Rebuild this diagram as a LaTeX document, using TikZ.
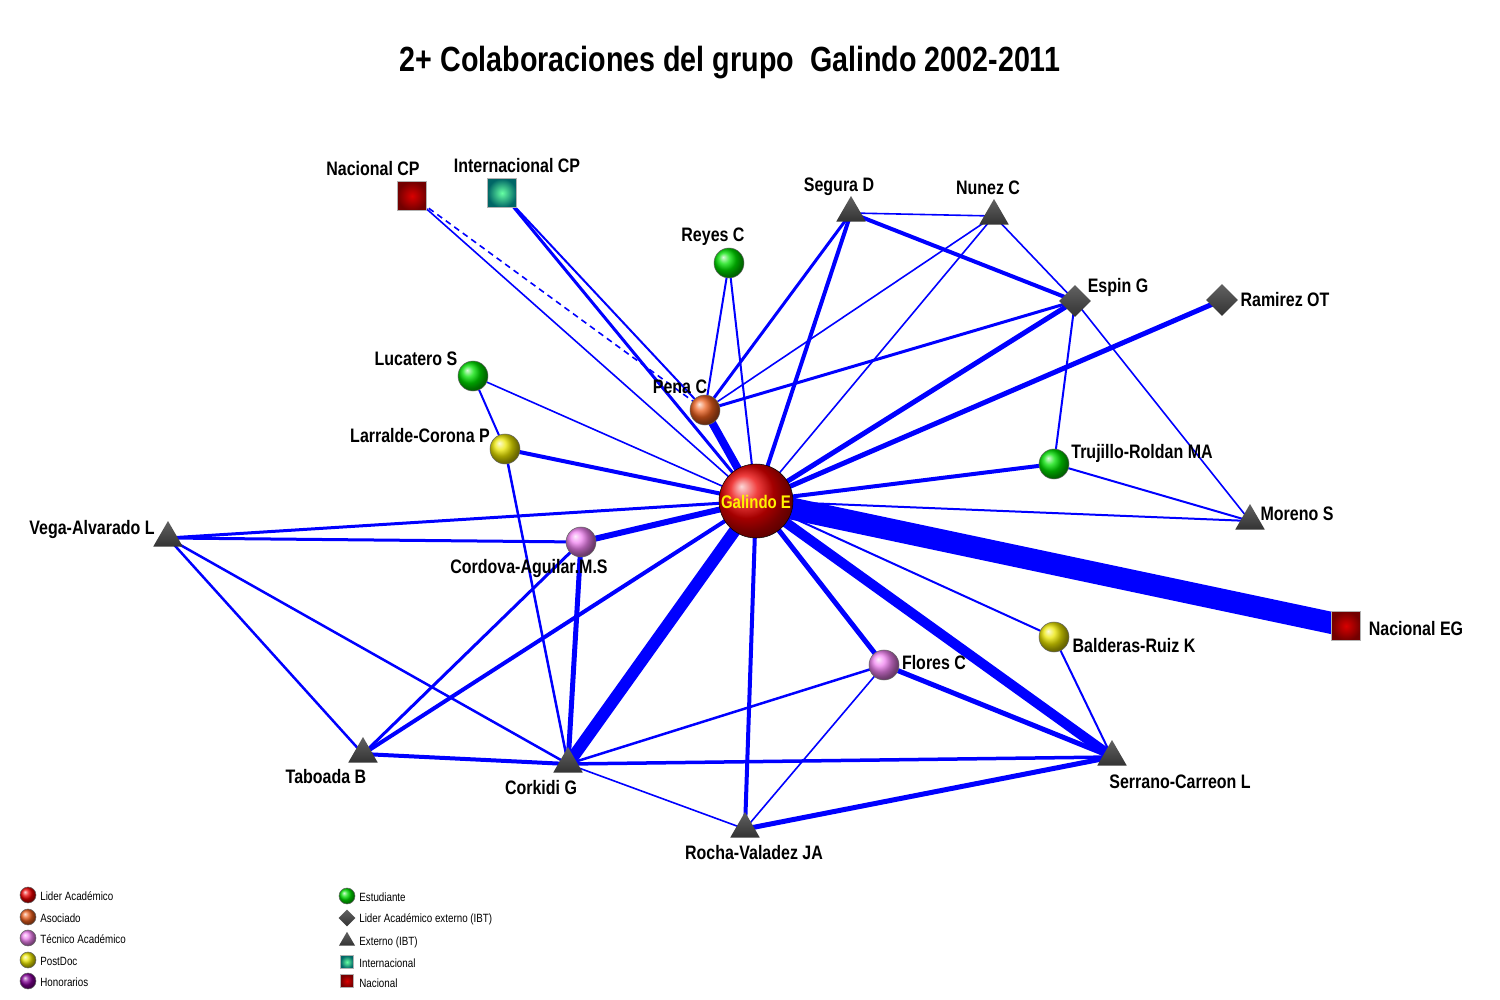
\documentclass[tikz,border=0pt]{standalone}
\usepackage{fontspec}
\setmainfont{Liberation Sans}[FakeStretch=0.82]
\usetikzlibrary{shapes.geometric,backgrounds}

\definecolor{azul}{RGB}{0,0,255}
\definecolor{rojo}{RGB}{235,0,0}
\definecolor{naranja}{RGB}{235,95,30}
\definecolor{lila}{RGB}{240,130,240}
\definecolor{amarillo}{RGB}{235,230,0}
\definecolor{verde}{RGB}{0,225,0}
\definecolor{morado}{RGB}{130,0,150}
\definecolor{gris}{RGB}{80,80,80}

\tikzset{
  persona/.style={circle, draw=black!60, line width=0.3pt, inner sep=0pt, minimum size=6mm, ball color=#1},
  externo/.style={regular polygon, regular polygon sides=3, inner sep=0pt, minimum size=6.8mm, top color=gris!90, bottom color=black!80},
  liderext/.style={diamond, inner sep=0pt, minimum size=6.4mm, top color=gris!90, bottom color=black!80},
  nacional/.style={rectangle, draw=gray!60, inner sep=0pt, minimum size=5.8mm, inner color=red!85!black, outer color=black!55!red},
  internac/.style={rectangle, draw=gray!60, inner sep=0pt, minimum size=5.8mm, inner color=cyan!40!green!60, outer color=teal!80!black},
  etiqueta/.style={font=\bfseries\fontsize{11.1}{13}\selectfont, inner sep=0pt},
  leyenda/.style={font=\fontsize{6.8}{8}\selectfont, inner sep=0pt, anchor=west},
  lazo/.style={azul, line width=#1*0.2mm},
}

\begin{document}
\begin{tikzpicture}[x=0.2mm,y=-0.2mm]
    \useasboundingbox (0,0) rectangle (1500,1000);

    % Titulo
    \node[font=\bfseries\fontsize{19.9}{24}\selectfont] (titulo) at (730,63) {2+ Colaboraciones del grupo\ \ Galindo 2002-2011};

    % Nodos del grupo
    \node[persona=rojo, minimum size=14.8mm, draw=black] (gal) at (756,501) {};
    \node[persona=naranja] (pena) at (705,410) {};
    \node[persona=verde] (reyes) at (729,263) {};
    \node[persona=verde] (luca) at (473,376) {};
    \node[persona=amarillo] (larr) at (505,449) {};
    \node[persona=lila] (cord) at (581,542) {};
    \node[persona=verde] (truj) at (1054,464) {};
    \node[persona=amarillo] (bald) at (1054,637) {};
    \node[persona=lila] (flor) at (884,665) {};

    % Nacional / Internacional
    \node[nacional] (ncp) at (412,196) {};
    \node[internac] (icp) at (502,193) {};
    \node[nacional] (neg) at (1346,626) {};

    % Externos (IBT)
    \node[externo] (seg) at (851,213) {};
    \node[externo] (nun) at (994,216) {};
    \node[liderext] (esp) at (1075,301) {};
    \node[liderext] (ram) at (1222,300) {};
    \node[externo] (mor) at (1250,521) {};
    \node[externo] (vega) at (168,538) {};
    \node[externo] (tab) at (363,754) {};
    \node[externo] (cork) at (568,764) {};
    \node[externo] (roch) at (745,829) {};
    \node[externo] (serr) at (1112,757) {};

    % Etiquetas
    \node[etiqueta, text=yellow, font=\bfseries\fontsize{10.4}{12}\selectfont] (lgal) at (756,502) {Galindo E};
    \node[etiqueta] (lncp) at (373,169) {Nacional CP};
    \node[etiqueta] (licp) at (517,166) {Internacional CP};
    \node[etiqueta] (lreyes) at (713,237) {Reyes C};
    \node[etiqueta] (lseg) at (839,187) {Segura D};
    \node[etiqueta] (lnun) at (988,188) {Nunez C};
    \node[etiqueta] (lesp) at (1118,287) {Espin G};
    \node[etiqueta] (lram) at (1285,300) {Ramirez OT};
    \node[etiqueta] (lluca) at (416,359) {Lucatero S};
    \node[etiqueta] (lpena) at (680,387) {Pena C};
    \node[etiqueta] (llarr) at (420,436) {Larralde-Corona P};
    \node[etiqueta] (ltruj) at (1142,453) {Trujillo-Roldan MA};
    \node[etiqueta] (lvega) at (92,529) {Vega-Alvarado L};
    \node[etiqueta] (lmor) at (1297,514) {Moreno S};
    \node[etiqueta] (lcord) at (529,568) {Cordova-Aguilar.M.S};
    \node[etiqueta] (lneg) at (1416,629) {Nacional EG};
    \node[etiqueta] (lbald) at (1134,646) {Balderas-Ruiz K};
    \node[etiqueta] (lflor) at (934,663) {Flores C};
    \node[etiqueta] (ltab) at (326,777) {Taboada B};
    \node[etiqueta] (lcork) at (541,788) {Corkidi G};
    \node[etiqueta] (lserr) at (1180,782) {Serrano-Carreon L};
    \node[etiqueta] (lroch) at (754,853) {Rocha-Valadez JA};

    % Colaboraciones
    \begin{scope}[on background layer]
        \draw[lazo=22] (gal.center) -- (neg.center);
        \draw[lazo=12] (gal.center) -- (cork.center);
        \draw[lazo=10] (gal.center) -- (serr.center);
        \draw[lazo=8] (gal.center) -- (pena.center);
        \draw[lazo=6] (gal.center) -- (cord.center);
        \draw[lazo=5] (gal.center) -- (esp.center);
        \draw[lazo=5] (gal.center) -- (ram.center);
        \draw[lazo=5] (gal.center) -- (flor.center);
        \draw[lazo=4] (gal.center) -- (seg.center);
        \draw[lazo=4] (gal.center) -- (truj.center);
        \draw[lazo=4] (gal.center) -- (larr.center);
        \draw[lazo=4] (gal.center) -- (tab.center);
        \draw[lazo=4] (gal.center) -- (roch.center);
        \draw[lazo=3] (gal.center) -- (vega.center);
        \draw[lazo=3] (gal.center) -- (icp.center);
        \draw[lazo=2] (gal.center) -- (reyes.center);
        \draw[lazo=2] (gal.center) -- (mor.center);
        \draw[lazo=2] (gal.center) -- (bald.center);
        \draw[lazo=1.6] (gal.center) -- (nun.center);
        \draw[lazo=1.6] (gal.center) -- (luca.center);
        \draw[lazo=1.6] (gal.center) -- (ncp.center);

        \draw[lazo=2] (pena.center) -- (reyes.center);
        \draw[lazo=3] (pena.center) -- (seg.center);
        \draw[lazo=1.6] (pena.center) -- (nun.center);
        \draw[lazo=3] (pena.center) -- (esp.center);
        \draw[lazo=2] (pena.center) -- (icp.center);
        \draw[lazo=1.6, dash pattern=on 1.2mm off 0.9mm] (pena.center) -- (ncp.center);

        \draw[lazo=1.6] (seg.center) -- (nun.center);
        \draw[lazo=4] (seg.center) -- (esp.center);
        \draw[lazo=1.6] (nun.center) -- (esp.center);
        \draw[lazo=1.6] (esp.center) -- (mor.center);
        \draw[lazo=2] (esp.center) -- (truj.center);
        \draw[lazo=2] (truj.center) -- (mor.center);

        \draw[lazo=2] (luca.center) -- (larr.center);
        \draw[lazo=2.5] (larr.center) -- (cork.center);

        \draw[lazo=3] (vega.center) -- (cord.center);
        \draw[lazo=2.5] (vega.center) -- (tab.center);
        \draw[lazo=2.5] (vega.center) -- (cork.center);
        \draw[lazo=3] (cord.center) -- (tab.center);
        \draw[lazo=5] (cord.center) -- (cork.center);
        \draw[lazo=4] (tab.center) -- (cork.center);

        \draw[lazo=2.5] (cork.center) -- (flor.center);
        \draw[lazo=3.5] (cork.center) -- (serr.center);
        \draw[lazo=1.6] (cork.center) -- (roch.center);
        \draw[lazo=5] (flor.center) -- (serr.center);
        \draw[lazo=1.6] (flor.center) -- (roch.center);
        \draw[lazo=2] (bald.center) -- (serr.center);
        \draw[lazo=5] (roch.center) -- (serr.center);
    \end{scope}

    % Leyenda
    \node[persona=rojo, minimum size=3.2mm] (ley1) at (28,895) {};
    \node[leyenda] (tley1) at (40,896) {Lider Académico};
    \node[persona=naranja, minimum size=3.2mm] (ley2) at (28,917) {};
    \node[leyenda] (tley2) at (40,918) {Asociado};
    \node[persona=lila, minimum size=3.2mm] (ley3) at (28,938) {};
    \node[leyenda] (tley3) at (40,939) {Técnico Académico};
    \node[persona=amarillo, minimum size=3.2mm] (ley4) at (28,960) {};
    \node[leyenda] (tley4) at (40,961) {PostDoc};
    \node[persona=morado, minimum size=3.2mm] (ley5) at (28,981) {};
    \node[leyenda] (tley5) at (40,982) {Honorarios};

    \node[persona=verde, minimum size=3.2mm] (ley6) at (347,896) {};
    \node[leyenda] (tley6) at (359,897) {Estudiante};
    \node[liderext, minimum size=3.4mm] (ley7) at (347,918) {};
    \node[leyenda] (tley7) at (359,919) {Lider Académico externo (IBT)};
    \node[externo, minimum size=3.7mm] (ley8) at (347,941) {};
    \node[leyenda] (tley8) at (359,942) {Externo (IBT)};
    \node[internac, minimum size=2.6mm] (ley9) at (347,962) {};
    \node[leyenda] (tley9) at (359,963) {Internacional};
    \node[nacional, minimum size=2.6mm] (ley10) at (347,981) {};
    \node[leyenda] (tley10) at (359,983) {Nacional};
\end{tikzpicture}
\end{document}
